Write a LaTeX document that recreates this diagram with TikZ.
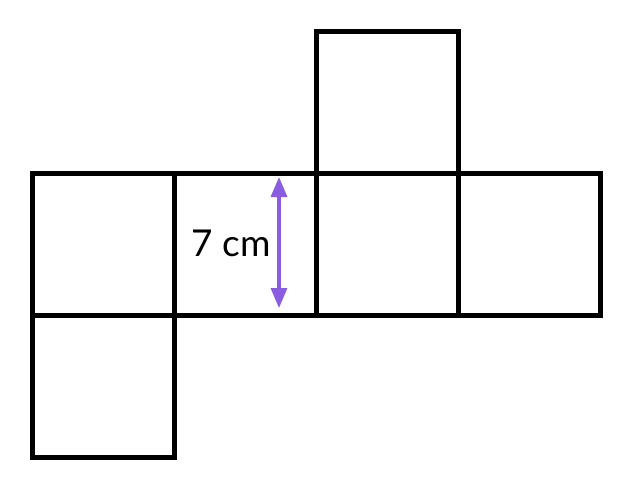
\documentclass[tikz,border=0pt]{standalone}
\usepackage{fontspec}
\setmainfont{Lato}
\usetikzlibrary{arrows.meta}
\definecolor{arrowpurple}{HTML}{8A5CDF}
\begin{document}
\begin{tikzpicture}[x=1pt,y=-1pt,
  face/.style={draw=black,line width=5.5pt,line join=miter,minimum size=142pt,inner sep=0pt,outer sep=0pt,anchor=north west},
  dim/.style={draw=arrowpurple,line width=3.2pt,{Triangle[length=20pt,width=16pt]}-{Triangle[length=20pt,width=16pt]}},
  lbl/.style={font=\fontsize{37}{40}\selectfont,inner sep=0pt}]
\useasboundingbox (0,0) rectangle (640,498);
\coordinate (t1) at (279,177);
\coordinate (t2) at (279,308);
\node[face] (f1) at (32.5,173.5) {};
\node[face] (f2) at (174.5,173.5) {};
\node[face] (f3) at (316.5,173.5) {};
\node[face] (f4) at (458.5,173.5) {};
\node[face] (f5) at (316.5,31.5) {};
\node[face] (f6) at (32.5,315.5) {};
\draw[dim] (t1) -- (t2);
\node[lbl,anchor=base] (l) at (231,256) {7 cm};
\end{tikzpicture}
\end{document}
